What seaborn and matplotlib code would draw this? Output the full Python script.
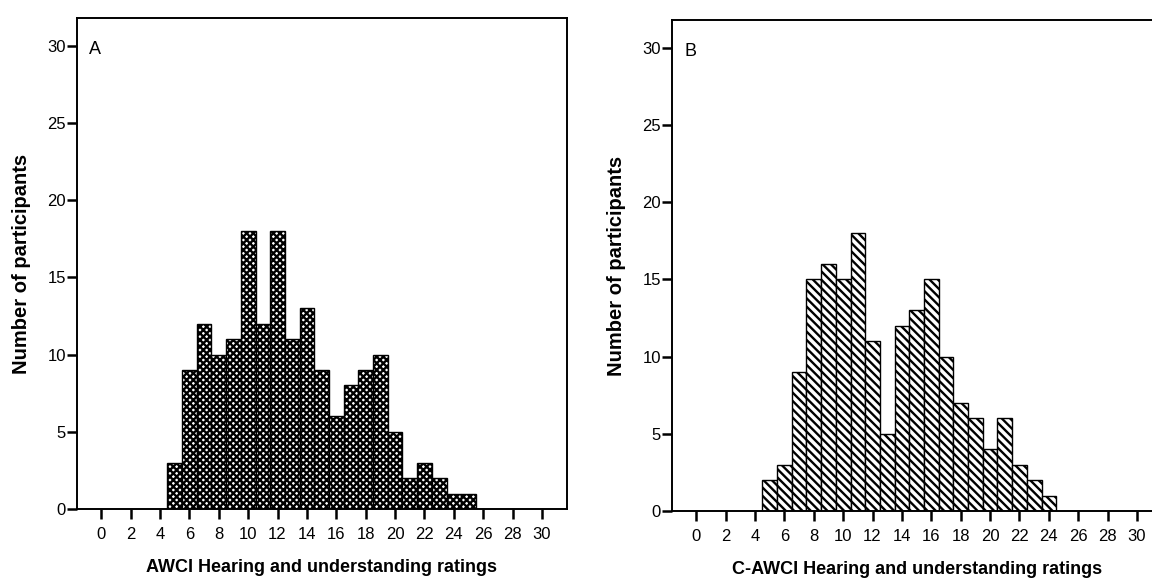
import matplotlib
matplotlib.use("Agg")
import matplotlib.pyplot as plt
import seaborn as sns
import pandas as pd
import numpy as np

# Data
scores_a = [5, 6, 7, 8, 9, 10, 11, 12, 13, 14, 15, 16, 17, 18, 19, 20, 21, 22, 23, 24, 25]
counts_a = [3, 9, 12, 10, 11, 18, 12, 18, 11, 13, 9, 6, 8, 9, 10, 5, 2, 3, 2, 1, 1]
scores_b = [5, 6, 7, 8, 9, 10, 11, 12, 13, 14, 15, 16, 17, 18, 19, 20, 21, 22, 23, 24]
counts_b = [2, 3, 9, 15, 16, 15, 18, 11, 5, 12, 13, 15, 10, 7, 6, 4, 6, 3, 2, 1]
xticks = list(range(0, 31, 2))
yticks = [0, 5, 10, 15, 20, 25, 30]
xlabel_a = "AWCI Hearing and understanding ratings"
xlabel_b = "C-AWCI Hearing and understanding ratings"
ylabel = "Number of participants"

sns.set_theme(style="white")
plt.rcParams['font.family'] = ['Liberation Sans', 'DejaVu Sans']
plt.rcParams['hatch.linewidth'] = 1.7
plt.rcParams['text.color'] = 'black'
plt.rcParams['axes.labelcolor'] = 'black'
plt.rcParams['xtick.color'] = 'black'
plt.rcParams['ytick.color'] = 'black'

fig = plt.figure(figsize=(11.52, 5.78), dpi=100)
ax_a = fig.add_axes([77/1152, 1-509/578, (567-77)/1152, (509-18)/578])
ax_b = fig.add_axes([672/1152, 1-511/578, (1162-672)/1152, (511-20)/578])

df_a = pd.DataFrame({"score": scores_a, "count": counts_a})
df_b = pd.DataFrame({"score": scores_b, "count": counts_b})

def draw(ax, df, hatch, label, letter):
    sns.histplot(data=df, x="score", weights="count", discrete=True, ax=ax,
                 color="white", edgecolor="black", linewidth=1.0, alpha=1.0)
    for p in ax.patches:
        p.set_hatch(hatch)
        p.set_facecolor("white")
        p.set_edgecolor("black")
    ax.set_xlim(-1.65, 31.7)
    ax.set_ylim(0, 31.8)
    ax.set_xticks(xticks)
    ax.set_xticklabels([str(t) for t in xticks], fontsize=12)
    ax.set_yticks(yticks)
    ax.set_yticklabels([str(t) for t in yticks], fontsize=12)
    ax.tick_params(axis='both', direction='out', length=7, width=1.8, color='black',
                   bottom=True, left=True, pad=1)
    ax.tick_params(axis='x', pad=6)
    for s in ax.spines.values():
        s.set_color('black')
        s.set_linewidth(1.4)
    ax.set_xlabel(label, fontsize=13, fontweight='bold', labelpad=12)
    ax.set_ylabel(ylabel, fontsize=14.5, fontweight='bold', labelpad=12)
    ax.text(0.025, 0.935, letter, transform=ax.transAxes, fontsize=13, ha='left', va='center')
    ax.grid(False)

draw(ax_a, df_a, 'xxxxx', xlabel_a, 'A')
draw(ax_b, df_b, '\\\\\\\\', xlabel_b, 'B')

fig.savefig("out.png", dpi=100)
